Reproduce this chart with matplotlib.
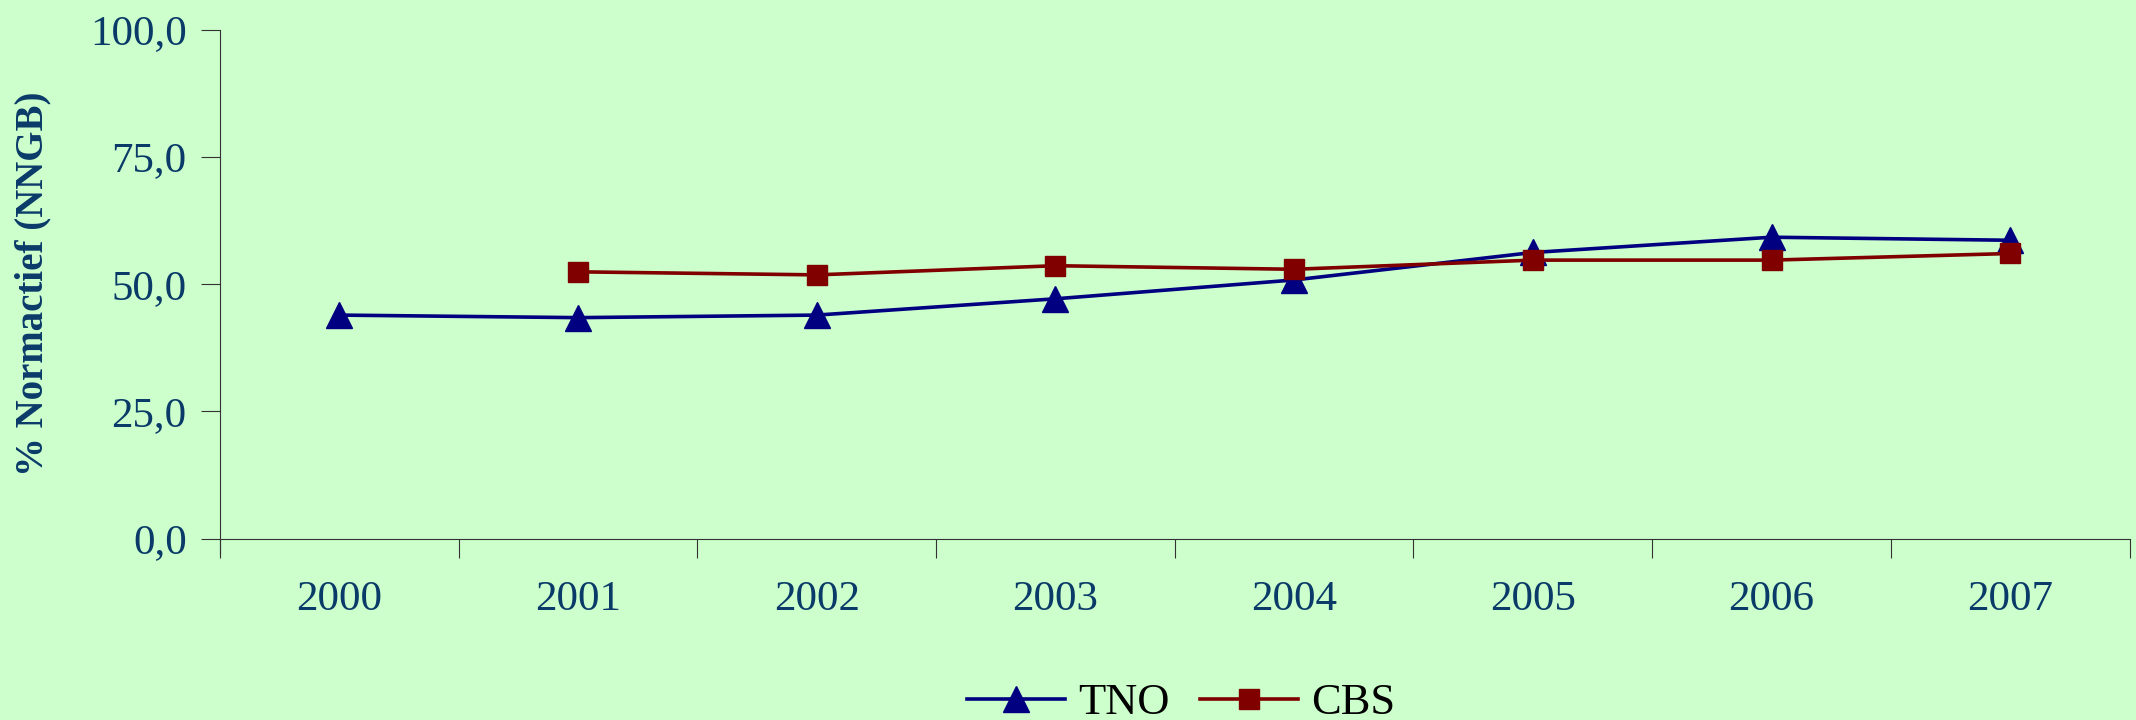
import matplotlib.pyplot as plt

years = ['2000', '2001', '2002', '2003', '2004', '2005', '2006', '2007']
tno = [43.9, 43.4, 43.9, 47.1, 50.8, 56.2, 59.2, 58.6]
cbs = [None, 52.4, 51.8, 53.6, 52.9, 54.7, 54.7, 56.0]
yticks = [0, 25, 50, 75, 100]

bg = '#CCFFCC'
txt = '#0A3A68'
serif = ['Liberation Serif', 'DejaVu Serif']

fig = plt.figure(figsize=(21.36, 7.2), dpi=100, facecolor=bg)
ax = fig.add_axes([0.103, 0.252, 0.894, 0.707])
ax.set_facecolor(bg)

x = list(range(len(years)))
ax.plot(x, tno, color='#000080', lw=2.6, marker='^', ms=19, label='TNO')
cx = [i for i, v in zip(x, cbs) if v is not None]
cv = [v for v in cbs if v is not None]
ax.plot(cx, cv, color='#800000', lw=2.6, marker='s', ms=15, label='CBS')

ax.set_xlim(-0.5, len(years) - 0.5)
ax.set_ylim(0, 100)
ax.set_yticks(yticks)
ax.set_yticklabels([f'{v:.1f}'.replace('.', ',') for v in yticks],
                   family=serif, fontsize=31, color=txt)
# category axis: ticks on the boundaries, labels centred
ax.set_xticks([i - 0.5 for i in range(len(years) + 1)])
ax.set_xticklabels([])
ax.set_xticks(x, minor=True)
ax.set_xticklabels(years, minor=True, family=serif, fontsize=31, color=txt)
ax.tick_params(axis='x', which='minor', length=0, pad=30)
ax.tick_params(axis='x', which='major', length=14, direction='out', color='#333333')
ax.tick_params(axis='y', length=14, direction='out', pad=10, color='#333333')

for s in ['top', 'right']:
    ax.spines[s].set_visible(False)
ax.spines['left'].set_color('#333333')
ax.spines['bottom'].set_color('#333333')
ax.spines['left'].set_bounds(-3, 100)

ax.set_ylabel('% Normactief (NNGB)', family=serif, fontsize=28,
              fontweight='bold', color=txt, labelpad=28)

fig.legend(loc='lower center', bbox_to_anchor=(0.553, -0.06), ncol=2,
           frameon=False, prop={'family': serif, 'size': 32},
           handlelength=2.2, columnspacing=0.7, handletextpad=0.3)

fig.savefig('out.png', dpi=100, facecolor=bg)
